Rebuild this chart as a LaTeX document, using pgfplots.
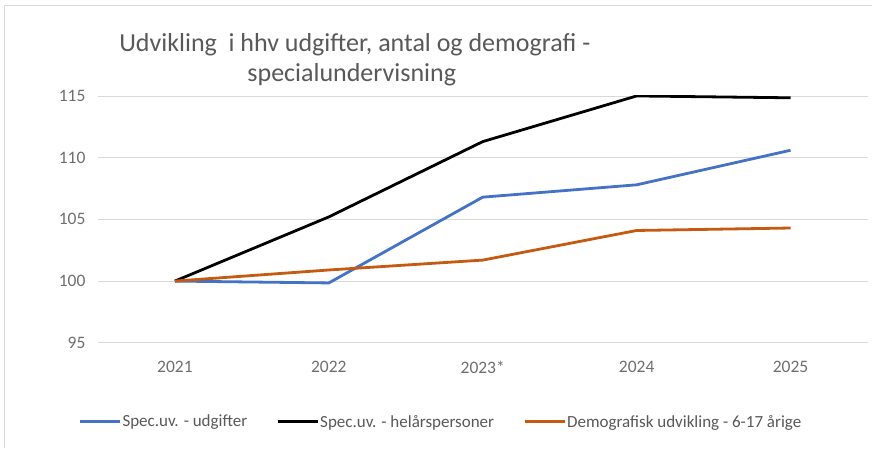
\documentclass[border=0pt]{standalone}
\usepackage{pgfplots}
\pgfplotsset{compat=1.18}
\usepackage{fontspec}
\setmainfont{Carlito}
\definecolor{cblue}{HTML}{4472C4}
\definecolor{corange}{HTML}{C55A11}
\definecolor{tgray}{HTML}{595959}
\definecolor{lgray}{HTML}{6F6F6F}
\definecolor{ggray}{HTML}{D9D9D9}
\begin{document}
\begin{tikzpicture}[x=1pt,y=1pt]
\path[fill=white] (0,0) rectangle (872,-448);
\draw[ggray,line width=1pt] (5,-448) -- (5,-6) -- (872,-6);
\node[text=tgray,font=\fontsize{26}{30}\selectfont,anchor=base] at (355,-52) {Udvikling\ \ i hhv udgifter, antal og demografi -};
\node[text=tgray,font=\fontsize{26}{30}\selectfont,anchor=base] at (352,-82) {specialundervisning};
\begin{axis}[
  at={(98pt,-343pt)}, anchor=south west,
  scale only axis, width=770pt, height=247pt,
  xmin=-0.5, xmax=4.5, ymin=95, ymax=115,
  xtick={0,1,2,3,4}, xticklabels={2021,2022,2023*,2024,2025},
  ytick={95,100,105,110,115},
  axis line style={draw=none},
  major tick length=0pt,
  ymajorgrids, grid style={ggray,line width=0.8pt},
  tick label style={text=lgray,font=\fontsize{17.5}{19}\selectfont},
  /pgf/number format/assume math mode=true,
  yticklabel style={xshift=-9pt},
  xticklabel style={yshift=-15pt},
  legend style={draw=none, at={(0.445,-0.32)}, anchor=center, legend columns=3,
    font=\fontsize{17}{19}\selectfont, text=tgray,
    nodes={inner xsep=1pt},
    /tikz/every even column/.append style={column sep=28pt}},
  legend image code/.code={\draw[#1,line width=3pt] (0pt,0pt) -- (40pt,0pt);},
  line join=round,
]
\addplot[cblue,line width=2.8pt] coordinates {(0,100) (1,99.85) (2,106.8) (3,107.8) (4,110.6)};
\addlegendentry{Spec.uv. - udgifter}
\addplot[black,line width=2.8pt] coordinates {(0,100) (1,105.2) (2,111.3) (3,115.0) (4,114.85)};
\addlegendentry{Spec.uv. - helårspersoner}
\addplot[corange,line width=2.8pt] coordinates {(0,100) (1,100.9) (2,101.7) (3,104.1) (4,104.3)};
\addlegendentry{Demografisk udvikling - 6-17 årige}
\end{axis}
\end{tikzpicture}
\end{document}
